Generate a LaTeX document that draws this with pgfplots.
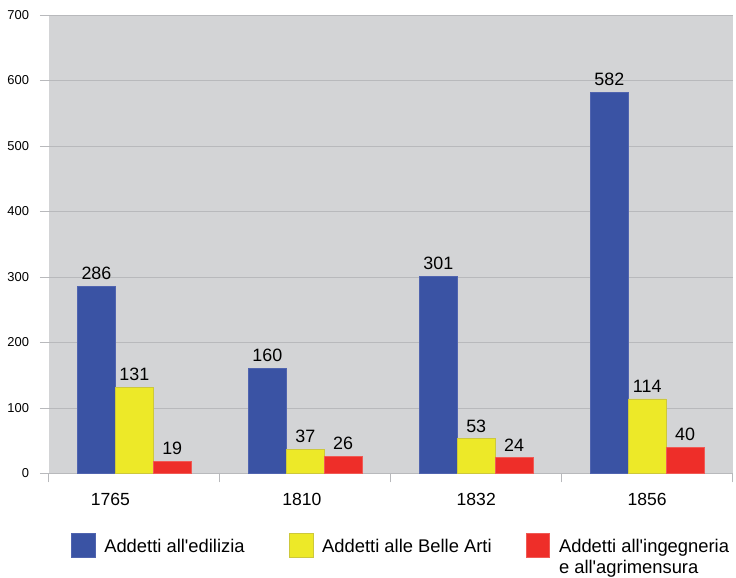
\documentclass[border=0pt]{standalone}
\usepackage{fontspec}
\setmainfont{Liberation Sans}[Ligatures=TeXOff]
\usepackage{pgfplots}
\pgfplotsset{compat=1.18}
\definecolor{cblue}{RGB}{58,83,164}
\definecolor{cblueedge}{RGB}{80,100,175}
\definecolor{cyellow}{RGB}{237,233,40}
\definecolor{cyellowedge}{RGB}{205,200,60}
\definecolor{cred}{RGB}{238,46,41}
\definecolor{credge}{RGB}{240,90,85}
\definecolor{bggray}{RGB}{211,212,214}
\definecolor{gridgray}{RGB}{184,185,188}
\begin{document}
\begin{tikzpicture}
\begin{axis}[
  name=ax,
  scale only axis, width=686bp, height=460bp,
  ybar=0pt, bar width=38bp,
  xmin=-0.5, xmax=3.5, ymin=0, ymax=700,
  ytick={0,100,...,700},
  xtick={-0.5,0.5,1.5,2.5,3.5}, xticklabels={},
  extra x ticks={-0.14,0.98,2,3},
  extra x tick labels={1765,1810,1832,1856},
  extra x tick style={major tick length=0pt, xticklabel style={anchor=base, yshift=-32bp}},
  axis background/.style={fill=bggray},
  axis line style={draw=none},
  ymajorgrids, major grid style={draw=gridgray, line width=0.8bp},
  tick align=outside, major tick length=9bp,
  tick style={draw=gridgray, line width=0.8bp},
  xtick pos=bottom, ytick pos=left,
  /pgf/number format/assume math mode=true,
  yticklabel style={font=\fontsize{13}{15}\selectfont, inner sep=0pt, xshift=-10.7bp},
  xticklabel style={font=\fontsize{17.7}{20}\selectfont},
  nodes near coords,
  nodes near coords style={font=\fontsize{18}{20}\selectfont, yshift=3bp, text=black},
  legend columns=3,
  legend style={at={(0.03207,-0.1304)}, anchor=north west, draw=none, fill=none,
    inner sep=0pt, outer sep=0pt, row sep=0pt, column sep=0pt,
    font=\fontsize{18.5}{21}\selectfont,
    cells={anchor=base west}, nodes={inner sep=0pt},
    /tikz/every odd column/.style={column sep=9bp}},
  legend image code/.code={\fill[#1] (0bp,-5bp) rectangle (24bp,19bp);},
]
\addplot[fill=cblue, draw=cblueedge, line width=0.6bp] coordinates {(0,286) (1,160) (2,301) (3,582)};
\addlegendentry{\makebox[185bp][l]{Addetti all'edilizia}}
\addplot[fill=cyellow, draw=cyellowedge, line width=0.6bp] coordinates {(0,131) (1,37) (2,53) (3,114)};
\addlegendentry{\makebox[204bp][l]{Addetti alle Belle Arti}}
\addplot[fill=cred, draw=credge, line width=0.6bp] coordinates {(0,19) (1,26) (2,24) (3,40)};
\addlegendentry{\begin{tabular}[t]{@{}l@{}}Addetti all'ingegneria\\e all'agrimensura\end{tabular}}
\end{axis}
\path ([xshift=-49bp,yshift=-104bp]ax.south west);
\path ([xshift=1bp,yshift=15bp]ax.north east);
\end{tikzpicture}
\end{document}
